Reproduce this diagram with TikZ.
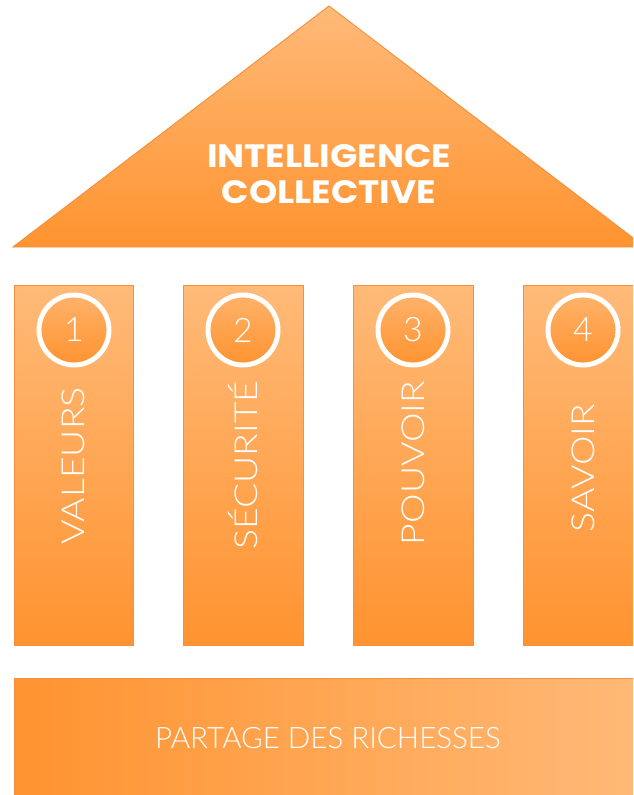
\documentclass[tikz,border=0pt]{standalone}
\usepackage{fontspec}
\usepackage{tikz}
\IfFontExistsTF{Poppins}{\newfontfamily\roofont{Poppins}[FakeStretch=1.11]}{\newfontfamily\roofont{TeX Gyre Heros}}
\IfFontExistsTF{Lato Light}{\newfontfamily\thinfont{Lato Light}}{\newfontfamily\thinfont{Lato}}
\IfFontExistsTF{Lato Light}{\newfontfamily\widefont{Lato Light}[FakeStretch=1.18]}{\newfontfamily\widefont{Lato}[FakeStretch=1.18]}
\definecolor{orLight}{HTML}{FFBA78}
\definecolor{orDark}{HTML}{FF9330}
\definecolor{orEdge}{HTML}{F5913E}

\begin{document}
\begin{tikzpicture}[x=0.025cm,y=-0.025cm,
    vshade/.style={top color=orLight,bottom color=orDark,draw=orEdge,line width=0.7pt},
    hshade/.style={left color=orDark,right color=orLight,draw=orEdge,line width=0.7pt},
    ring/.style={circle,minimum size=1.75cm,draw=white,line width=3.5pt,
      top color=orLight!80!orDark,bottom color=orDark,text=white,
      font=\thinfont\fontsize{24}{24}\selectfont},
    pillartext/.style={rotate=90,text=white,font=\widefont\fontsize{22.5}{22.5}\selectfont}]
    \useasboundingbox (0,0) rectangle (633,795);
    \clip (0,0) rectangle (633,795);
    % roof
    \shade[vshade] (329,6)--(645,247)--(13,247)--cycle;
    \node[text=white,align=center,font=\roofont\bfseries\fontsize{23}{25.5}\selectfont] (ic) at (329,174.5) {INTELLIGENCE\\COLLECTIVE};
    % pillars
    \shade[vshade] (14,285) rectangle (133,645);
    \shade[vshade] (183,285) rectangle (303,645);
    \shade[vshade] (353,285) rectangle (473,645);
    \shade[vshade] (523,285) rectangle (643,645);
    \node[ring] (na) at (74,330) {1};
    \node[ring] (nb) at (243,330) {2};
    \node[ring] (nc) at (413,330) {3};
    \node[ring] (nd) at (583,330) {4};
    \node[pillartext] (pa) at (73.5,466) {VALEURS};
    \node[pillartext] (pb) at (243,465) {SÉCURITÉ};
    \node[pillartext] (pc) at (413,463) {POUVOIR};
    \node[pillartext] (pd) at (583,468) {SAVOIR};
    % base
    \shade[hshade] (14,678) rectangle (645,800);
    \node[text=white,font=\thinfont\fontsize{21}{21}\selectfont] (pr) at (328,738) {PARTAGE DES RICHESSES};
\end{tikzpicture}
\end{document}
